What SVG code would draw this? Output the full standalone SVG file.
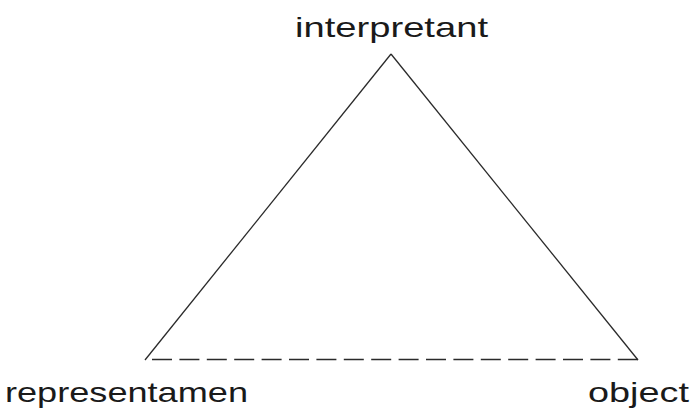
<svg xmlns="http://www.w3.org/2000/svg" width="692" height="413" viewBox="0 0 692 413">
<style>
.lbl{font-family:"Liberation Sans",Arial,Helvetica,sans-serif;font-size:28px;fill:#1a1a1a}
.edge{stroke:#2a2a2a;stroke-width:1.3;fill:none}
.dash{stroke-dasharray:20 7.4}
</style>
<rect width="692" height="413" fill="#ffffff"/>
<g id="connectors">
<line class="edge" x1="391" y1="54" x2="145" y2="360"/>
<line class="edge" x1="391" y1="54" x2="638" y2="360"/>
<line class="edge dash" x1="152" y1="359.5" x2="638" y2="359.5"/>
</g>
<g id="interpretant">
<text class="lbl" x="295" y="37" textLength="193" lengthAdjust="spacingAndGlyphs">interpretant</text>
</g>
<g id="representamen">
<text class="lbl" x="5" y="402" textLength="243" lengthAdjust="spacingAndGlyphs">representamen</text>
</g>
<g id="object">
<text class="lbl" x="588" y="402" textLength="101" lengthAdjust="spacingAndGlyphs">object</text>
</g>
</svg>
